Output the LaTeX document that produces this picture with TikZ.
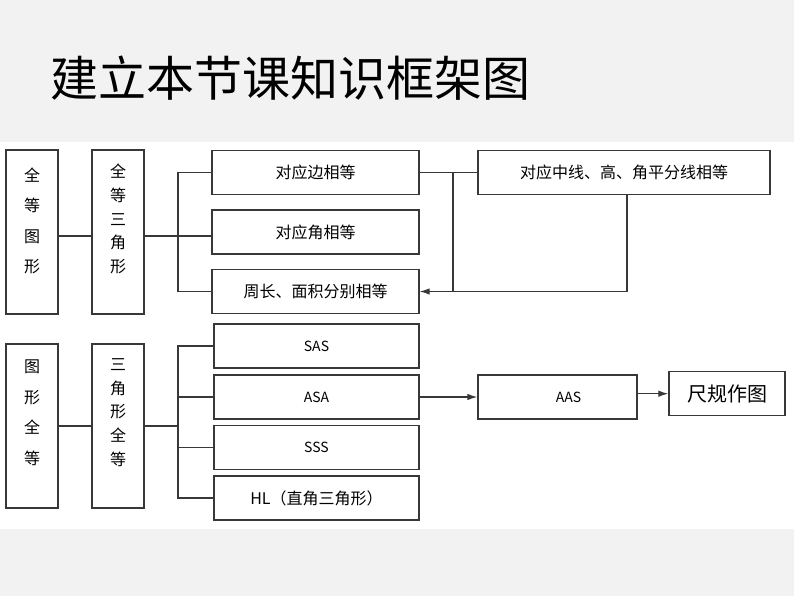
\documentclass[tikz,border=0pt]{standalone}
\usepackage{fontspec}
\setmainfont{Noto Sans CJK SC}
\usepackage{tikz}
\usetikzlibrary{arrows.meta}
\definecolor{bggray}{HTML}{F2F2F2}
\definecolor{linegray}{HTML}{383838}

\begin{document}
\begin{tikzpicture}[x=1pt,y=-1pt,>={Latex[length=10pt,width=6.5pt]}]
\tikzstyle{box}=[draw=linegray,line width=1.4pt,inner sep=0pt,font=\fontsize{16}{19}\selectfont];
\tikzstyle{tall}=[box,minimum width=52pt,minimum height=164pt];
\tikzstyle{wide}=[box,minimum height=44pt];
\tikzstyle{latin}=[font=\fontsize{14}{16}\selectfont];
\tikzstyle{vtext}=[align=center,inner sep=0pt];
\tikzstyle{link}=[draw=linegray,line width=1.1pt];
\useasboundingbox (0,0) rectangle (794,596);
\fill[bggray] (0,0) rectangle (794,142);
\fill[bggray] (0,529) rectangle (794,596);
\node[anchor=west,inner sep=0pt,font=\fontsize{48}{48}\selectfont] (title) at (50,78) {建立本节课知识框架图};
% upper part
\node[tall] (a1) at (32,232) {};
\node[vtext,font=\fontsize{16}{30.5}\selectfont] (ta1) at (32,221) {全\\等\\图\\形};
\node[tall] (b1) at (118,232) {};
\node[vtext,font=\fontsize{16}{23.7}\selectfont] (tb1) at (118,219) {全\\等\\三\\角\\形};
\node[wide,minimum width=207pt] (c1) at (315.5,172.5) {对应边相等};
\node[wide,minimum width=207pt] (c2) at (315.5,232) {对应角相等};
\node[wide,minimum width=207pt] (c3) at (315.5,291.5) {周长、面积分别相等};
\node[wide,minimum width=292pt] (d1) at (624,172.5) {对应中线、高、角平分线相等};
% lower part
\node[tall] (e1) at (32,426) {};
\node[vtext,font=\fontsize{16}{30.5}\selectfont] (te1) at (32,413) {图\\形\\全\\等};
\node[tall] (f1) at (118,426) {};
\node[vtext,font=\fontsize{16}{23.7}\selectfont] (tf1) at (118,412.5) {三\\角\\形\\全\\等};
\node[wide,latin,minimum width=205pt] (g1) at (316.5,346) {SAS};
\node[wide,latin,minimum width=205pt] (g2) at (316.5,397) {ASA};
\node[wide,latin,minimum width=205pt] (g3) at (316.5,447.5) {SSS};
\node[wide,minimum width=205pt] (g4) at (316.5,498) {HL（直角三角形）};
\node[wide,latin,minimum width=159pt] (h1) at (557.5,397) {\hspace*{22pt}AAS};
\node[wide,minimum width=116pt,font=\fontsize{20}{24}\selectfont] (i1) at (727,393.7) {尺规作图};
\coordinate (k1) at (178,0);
\coordinate (j1) at (453,0);
\draw[link] ([yshift=-4pt]a1.east) -- ([yshift=-4pt]b1.west)
	  ([yshift=-4pt]b1.east) -- ([yshift=-4pt]c2.west)
	  (c1.west) -- (c1.west -| k1) -- (c3.west -| k1) -- (c3.west)
	  (c1.east) -- (d1.west)
	  (c1.east -| j1) -- (c3.east -| j1);
\draw[link,->] ([xshift=3pt]d1.south) |- (c3.east);
\draw[link] (e1) -- (f1)
	  (f1.east) -- (f1.east -| k1)
	  (g1.west) -- (g1.west -| k1) -- (g4.west -| k1) -- (g4.west)
	  (g2.west) -- (g2.west -| k1)
	  (g3.west) -- (g3.west -| k1);
\draw[link,->] (g2) -- (h1);
\draw[link,->] (h1.east |- i1.west) -- (i1.west);
\end{tikzpicture}
\end{document}
